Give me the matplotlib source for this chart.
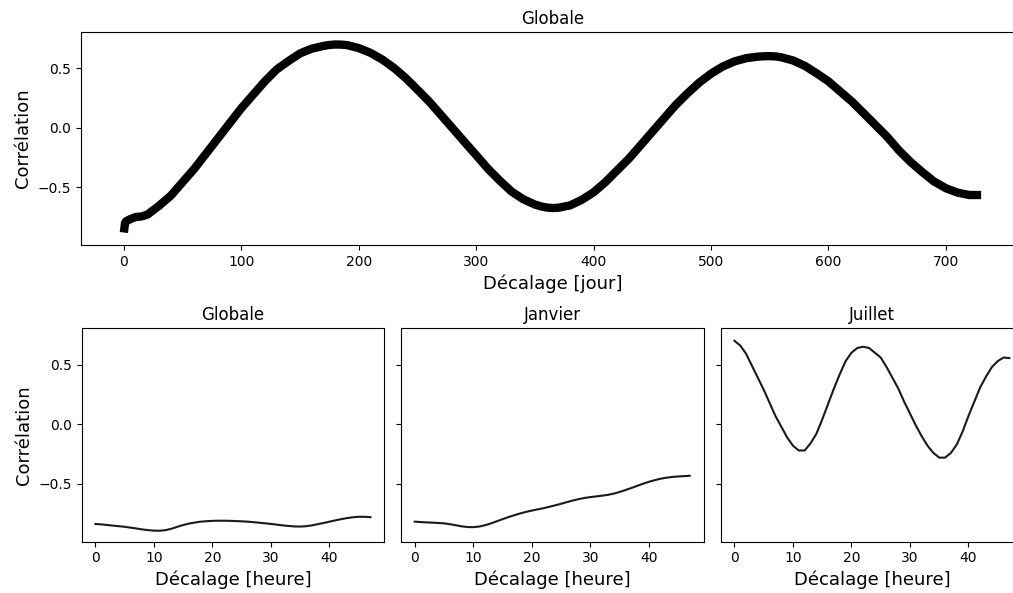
import numpy as np
import matplotlib
matplotlib.use("Agg")
import matplotlib.pyplot as plt

# correlation vs lag in days
lag_days = [0, 1, 2, 5, 10, 15, 20, 30, 40, 50, 60, 70, 80, 90, 100, 110, 120, 130, 140, 150,
            160, 170, 175, 180, 185, 190, 200, 210, 220, 230, 240, 250, 260, 270, 280, 290, 300,
            310, 320, 330, 340, 350, 355, 360, 365, 370, 380, 390, 400, 410, 420, 430, 440, 450,
            460, 470, 480, 490, 500, 510, 520, 530, 540, 545, 550, 555, 560, 570, 580, 590, 600,
            610, 620, 630, 640, 650, 660, 670, 680, 690, 700, 710, 720, 730]
corr_days = [-0.88, -0.80, -0.785, -0.77, -0.75, -0.745, -0.73, -0.655, -0.57, -0.457, -0.344,
             -0.217, -0.09, 0.037, 0.164, 0.277, 0.39, 0.489, 0.56, 0.625,
             0.665, 0.688, 0.696, 0.70, 0.699, 0.695, 0.67, 0.63, 0.574, 0.503, 0.418, 0.32, 0.22,
             0.108, -0.005, -0.118, -0.23, -0.344, -0.443, -0.535, -0.6, -0.645, -0.66, -0.67,
             -0.674, -0.672, -0.652, -0.605, -0.542, -0.457, -0.358, -0.26, -0.147, -0.034,
             0.08, 0.192, 0.29, 0.38, 0.455, 0.515, 0.558, 0.585, 0.598, 0.601, 0.602, 0.600,
             0.592, 0.565, 0.52, 0.457, 0.39, 0.305, 0.22, 0.122, 0.023, -0.076, -0.19, -0.288,
             -0.373, -0.452, -0.508, -0.545, -0.565, -0.565]

# correlation vs lag in hours, 0..47
lag_hours = list(range(48))
corr_globale = [-0.836, -0.840, -0.845, -0.850, -0.855, -0.860, -0.867, -0.874, -0.882, -0.888,
                -0.892, -0.893, -0.888, -0.876, -0.860, -0.845, -0.833, -0.824, -0.817, -0.813,
                -0.810, -0.809, -0.809, -0.810, -0.812, -0.814, -0.817, -0.821, -0.826, -0.831,
                -0.836, -0.842, -0.848, -0.853, -0.857, -0.858, -0.855, -0.848, -0.838, -0.828,
                -0.817, -0.806, -0.796, -0.787, -0.780, -0.776, -0.776, -0.779]
corr_janvier = [-0.817, -0.820, -0.823, -0.825, -0.828, -0.831, -0.838, -0.847, -0.856, -0.862,
                -0.863, -0.858, -0.847, -0.832, -0.814, -0.796, -0.779, -0.763, -0.748, -0.735,
                -0.724, -0.714, -0.704, -0.692, -0.680, -0.667, -0.653, -0.640, -0.628, -0.618,
                -0.611, -0.605, -0.599, -0.592, -0.582, -0.568, -0.552, -0.535, -0.517, -0.499,
                -0.483, -0.469, -0.457, -0.448, -0.442, -0.438, -0.435, -0.432]
corr_juillet = [0.70, 0.66, 0.59, 0.49, 0.39, 0.29, 0.18, 0.07, -0.02, -0.11,
                -0.18, -0.22, -0.22, -0.16, -0.08, 0.04, 0.17, 0.30, 0.42, 0.53,
                0.60, 0.64, 0.65, 0.64, 0.60, 0.56, 0.48, 0.39, 0.30, 0.19,
                0.09, -0.01, -0.10, -0.18, -0.24, -0.28, -0.28, -0.24, -0.17, -0.06,
                0.07, 0.19, 0.31, 0.40, 0.48, 0.53, 0.56, 0.555]

panel_titles = ["Globale", "Janvier", "Juillet"]
panel_series = [corr_globale, corr_janvier, corr_juillet]

W, H = 1013, 593
fig = plt.figure(figsize=(W / 100, H / 100), dpi=100)

def px_axes(left, top, right, bottom):
    return fig.add_axes([left / W, (H - bottom) / H, (right - left) / W, (bottom - top) / H])

ylim = (-0.985, 0.805)

ax = px_axes(81, 32, 1024, 245)
ax.plot(lag_days, corr_days, color="k", lw=6, solid_capstyle="butt", solid_joinstyle="round")
ax.set_xlim(-36.5, 766.5)
ax.set_ylim(ylim)
ax.set_title("Globale", fontsize=12)
ax.set_xlabel("Décalage [jour]", fontsize=13)
ax.set_ylabel("Corrélation", fontsize=13)
ax.set_yticks([-0.5, 0.0, 0.5])

lefts = [81.7, 401, 720.7]
for i, (left, title, vals) in enumerate(zip(lefts, panel_titles, panel_series)):
    a = px_axes(left, 328.3, left + 302.5, 541.7)
    a.plot(lag_hours, vals, color="#1a1a1a", lw=1.5)
    a.set_xlim(-2.35, 49.35)
    a.set_ylim(ylim)
    a.set_yticks([-0.5, 0.0, 0.5])
    a.set_xticks([0, 10, 20, 30, 40])
    a.set_title(title, fontsize=12)
    a.set_xlabel("Décalage [heure]", fontsize=13)
    if i == 0:
        a.set_ylabel("Corrélation", fontsize=13)
    else:
        a.set_yticklabels([])

fig.savefig("out.png", dpi=100)
